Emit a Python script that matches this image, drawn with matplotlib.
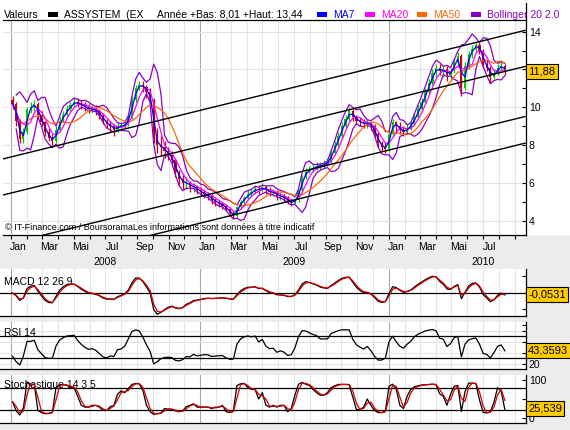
import matplotlib

matplotlib.use("Agg")
import matplotlib.pyplot as plt
import matplotlib.transforms as mtransforms
from matplotlib.patches import Rectangle
from matplotlib.lines import Line2D
import numpy as np
import pandas as pd


FIG_W, FIG_H = 570, 430
DPI = 100

# weekly candles (Friday closes), Jan 2008 -> mid Aug 2010
first_week = "2008-01-04"
closes = [
    10.2, 9.3, 8.3, 8.7, 9.9, 10.0, 10.2, 9.6, 9.2, 8.7,
    8.4, 8.2, 8.8, 9.3, 9.6, 9.9, 10.1, 10.3, 10.2, 10.1,
    10.0, 9.9, 9.9, 9.8, 9.6, 9.3, 9.1, 9.0, 8.8, 9.0,
    9.0, 9.1, 9.5, 10.4, 11.0, 11.2, 11.1, 10.8, 10.4, 8.4,
    8.0, 7.9, 7.7, 7.5, 7.2, 6.6, 6.2, 6.0, 6.0, 5.8,
    5.8, 5.6, 5.5, 5.4, 5.3, 5.1, 5.0, 4.9, 4.8, 4.6,
    4.4, 4.25, 4.7, 5.0, 5.2, 5.4, 5.5, 5.7, 5.6, 5.8,
    5.6, 5.5, 5.5, 5.3, 5.3, 5.2, 5.0, 4.95, 5.1, 5.6,
    6.3, 6.6, 6.7, 6.8, 6.9, 6.9, 7.0, 7.1, 7.6, 8.0,
    8.5, 9.0, 9.4, 9.8, 9.5, 9.3, 9.2, 9.1, 9.2, 9.0,
    8.6, 8.1, 7.9, 7.8, 8.6, 9.2, 9.0, 8.8, 8.7, 8.9,
    9.1, 9.5, 9.9, 10.3, 10.8, 11.3, 11.8, 12.1, 11.9, 12.0,
    11.7, 11.9, 12.4, 12.7, 11.0, 12.2, 12.8, 13.1, 13.3, 13.0,
    12.3, 12.1, 11.6, 11.8, 12.1, 12.2, 11.88,
]
opens = [
    10.4, 10.2, 9.3, 8.3, 8.7, 9.9, 10.0, 10.2, 9.6, 9.2,
    8.7, 8.4, 8.2, 8.8, 9.3, 9.6, 9.9, 10.1, 10.3, 10.2,
    10.1, 10.0, 9.9, 9.9, 9.8, 9.6, 9.3, 9.1, 9.0, 8.8,
    9.0, 9.0, 9.1, 9.5, 10.4, 11.0, 11.2, 11.1, 10.8, 10.4,
    8.4, 8.0, 7.9, 7.7, 7.5, 7.2, 6.6, 6.2, 6.0, 6.0,
    5.8, 5.8, 5.6, 5.5, 5.4, 5.3, 5.1, 5.0, 4.9, 4.8,
    4.6, 4.4, 4.25, 4.7, 5.0, 5.2, 5.4, 5.5, 5.7, 5.6,
    5.8, 5.6, 5.5, 5.5, 5.3, 5.3, 5.2, 5.0, 4.95, 5.1,
    5.6, 6.3, 6.6, 6.7, 6.8, 6.9, 6.9, 7.0, 7.1, 7.6,
    8.0, 8.5, 9.0, 9.4, 9.8, 9.5, 9.3, 9.2, 9.1, 9.2,
    9.0, 8.6, 8.1, 7.9, 7.8, 8.6, 9.2, 9.0, 8.8, 8.7,
    8.9, 9.1, 9.5, 9.9, 10.3, 10.8, 11.3, 11.8, 12.1, 11.9,
    12.0, 11.7, 11.9, 12.4, 12.7, 11.0, 12.2, 12.8, 13.1, 13.3,
    13.0, 12.3, 12.1, 11.6, 11.8, 12.1, 12.2,
]
highs = [
    10.6, 10.3, 9.4, 8.9, 10.0, 10.3, 10.4, 10.3, 9.8, 9.3,
    8.9, 8.6, 9.0, 9.5, 9.8, 10.1, 10.3, 10.5, 10.5, 10.4,
    10.3, 10.2, 10.1, 10.1, 9.9, 9.7, 9.4, 9.3, 9.1, 9.2,
    9.2, 9.3, 9.7, 10.6, 11.2, 11.4, 11.4, 11.2, 11.0, 10.5,
    8.9, 8.5, 8.2, 7.9, 7.7, 7.3, 6.7, 6.4, 6.3, 6.1,
    6.0, 5.9, 5.8, 5.7, 5.5, 5.4, 5.2, 5.1, 5.0, 4.9,
    4.7, 4.5, 4.8, 5.1, 5.3, 5.6, 5.7, 5.9, 5.9, 6.0,
    5.9, 5.8, 5.7, 5.6, 5.5, 5.4, 5.3, 5.1, 5.2, 5.7,
    6.4, 6.8, 6.9, 7.0, 7.1, 7.1, 7.2, 7.3, 7.8, 8.2,
    8.7, 9.2, 9.6, 10.0, 9.9, 9.6, 9.5, 9.4, 9.4, 9.3,
    9.1, 8.7, 8.2, 8.1, 8.8, 9.4, 9.3, 9.2, 9.0, 9.1,
    9.3, 9.7, 10.1, 10.5, 11.0, 11.5, 12.0, 12.3, 12.3, 12.2,
    12.2, 12.1, 12.6, 12.9, 12.8, 12.4, 13.0, 13.3, 13.44, 13.4,
    13.1, 12.5, 12.2, 12.0, 12.3, 12.5, 12.3,
]
lows = [
    9.9, 9.0, 8.1, 8.1, 8.6, 9.7, 9.8, 9.4, 9.0, 8.5,
    8.2, 8.0, 8.1, 8.7, 9.2, 9.5, 9.8, 10.0, 10.0, 9.9,
    9.8, 9.7, 9.7, 9.6, 9.4, 9.1, 8.9, 8.7, 8.5, 8.7,
    8.8, 8.9, 9.0, 9.4, 10.3, 10.9, 10.8, 10.5, 10.2, 8.1,
    7.6, 7.5, 7.3, 7.2, 6.9, 6.3, 5.9, 5.7, 5.7, 5.5,
    5.5, 5.4, 5.3, 5.2, 5.1, 4.9, 4.8, 4.7, 4.6, 4.5,
    4.3, 4.1, 4.2, 4.6, 4.9, 5.1, 5.3, 5.4, 5.4, 5.5,
    5.4, 5.3, 5.3, 5.1, 5.1, 5.0, 4.9, 4.8, 4.9, 5.0,
    5.5, 6.2, 6.5, 6.6, 6.7, 6.7, 6.8, 6.9, 7.0, 7.5,
    7.9, 8.4, 8.9, 9.3, 9.3, 9.1, 9.0, 8.9, 8.9, 8.8,
    8.4, 7.9, 7.7, 7.6, 7.7, 8.5, 8.7, 8.6, 8.5, 8.6,
    8.8, 9.0, 9.4, 9.8, 10.2, 10.7, 11.2, 11.6, 11.7, 11.6,
    11.4, 11.5, 11.8, 12.2, 10.6, 10.9, 12.0, 12.6, 12.9, 12.8,
    12.1, 11.9, 11.3, 11.5, 11.7, 11.9, 11.7,
]

# parallel channel lines: price at the left and right edge of the chart
channel_start = "2007-12-17"
channel_end = "2010-09-21"
channel_left = [7.27, 5.36, 2.71, 1.30]
channel_right = [14.07, 12.16, 9.51, 8.10]

month_labels = {1: "Jan", 3: "Mar", 5: "Mai", 7: "Jul", 9: "Sep", 11: "Nov"}
years = [2008, 2009, 2010]

last_macd = -0.0531
last_rsi = 43.3593
last_stoch = 25.539

GREEN = "#00c800"
RED = "#d40000"
BLUE = "#0000ff"
MAGENTA = "#ff00ff"
ORANGE = "#ff6600"
PURPLE = "#8a00c8"
BOX = "#ffcc00"
GRID = "#e3e3e3"
GRID_JAN = "#a8a8a8"
BG = "#ececec"


def px_date(px):
    # Jan 2009 sits at x=200, Jan 2010 at x=389 in the reference
    return pd.Timestamp("2008-01-01") + pd.Timedelta(days=(px - 11) / 189 * 365.5)


def fig_rect(left, top, right, bottom):
    return [left / FIG_W, 1 - bottom / FIG_H, (right - left) / FIG_W, (bottom - top) / FIG_H]


def fr(px, py):
    return px / FIG_W, 1 - py / FIG_H


def value_box(ax, y, text):
    trans = mtransforms.blended_transform_factory(ax.transAxes, ax.transData)
    ax.text(1.004, y, text, transform=trans, ha="left", va="center", fontsize=8,
            clip_on=False, zorder=20,
            bbox=dict(boxstyle="square,pad=0.22", fc=BOX, ec="black", lw=0.8))


def month_grid(ax, months):
    for m in months:
        ax.axvline(m, color=GRID_JAN if m.month == 1 else GRID, lw=0.8, zorder=0)


def style_lower(ax, xlim):
    ax.set_facecolor("white")
    ax.set_xlim(*xlim)
    ax.set_xticks([])
    for side in ("left", "top"):
        ax.spines[side].set_visible(False)
    ax.spines["right"].set_linewidth(0.9)
    ax.spines["bottom"].set_linewidth(0.9)
    ax.yaxis.tick_right()
    ax.tick_params(axis="y", direction="in", length=3, labelsize=7.5, pad=2, width=0.8)


plt.rcParams["font.family"] = ["Liberation Sans", "DejaVu Sans"]

dates = pd.date_range(first_week, periods=len(closes), freq="W-FRI")
close = pd.Series(closes, index=dates)
o = np.array(opens)
c = np.array(closes)
h = np.array(highs)
l = np.array(lows)

# indicators, day windows converted to weeks (5 trading days)
ma7 = close.rolling(2, min_periods=1).mean()
ma20 = close.rolling(4, min_periods=1).mean()
ma50 = close.rolling(10, min_periods=1).mean()
bb_std = close.rolling(4, min_periods=2).std(ddof=0)
bb_up = ma20 + 2 * bb_std
bb_dn = ma20 - 2 * bb_std

macd = close.ewm(span=12 / 5).mean() - close.ewm(span=26 / 5).mean()
signal = macd.ewm(span=9 / 5).mean()

# RSI: body move plus part of the wicks (intra-week swings), otherwise a run
# of down weeks pins a weekly RSI to zero
wicks = (h - np.maximum(o, c)) + (np.minimum(o, c) - l)
week_gain = np.clip(c - o, 0, None) + 0.4 * wicks
week_loss = np.clip(o - c, 0, None) + 0.4 * wicks
avg_gain = pd.Series(week_gain, index=dates).ewm(alpha=1 / 3, adjust=False).mean()
avg_loss = pd.Series(week_loss, index=dates).ewm(alpha=1 / 3, adjust=False).mean()
rsi = 100 * avg_gain / (avg_gain + avg_loss)

low_n = pd.Series(lows, index=dates).rolling(3, min_periods=1).min()
high_n = pd.Series(highs, index=dates).rolling(3, min_periods=1).max()
stoch_k = 100 * (close - low_n) / (high_n - low_n)
stoch_d = stoch_k.rolling(2, min_periods=1).mean()

months = pd.date_range("2008-01-01", "2010-09-01", freq="MS")

fig = plt.figure(figsize=(FIG_W / DPI, FIG_H / DPI), dpi=DPI)
fig.patch.set_facecolor(BG)
fig.add_artist(Rectangle((0, 1 - 235 / FIG_H), 1, 235 / FIG_H, transform=fig.transFigure,
                         fc="white", ec="none", zorder=-10))

# ---- price panel
ax = fig.add_axes(fig_rect(3, 20, 526, 235))
ax.set_facecolor("white")
main_xlim = (px_date(3), px_date(526))
ax.set_xlim(*main_xlim)
ax.set_ylim(3.24, 14.62)
month_grid(ax, months)
for v in range(4, 15, 2):
    ax.axhline(v, color=GRID, lw=0.8, zorder=0)

colors = np.where(c >= o, GREEN, RED)
ax.vlines(dates, l, h, colors=colors, lw=0.9, zorder=2)
ax.bar(dates, np.maximum(np.abs(c - o), 0.04), bottom=np.minimum(o, c), width=4.2,
       color=colors, zorder=2)

ax.plot(dates, bb_up, color=PURPLE, lw=0.9, zorder=3)
ax.plot(dates, bb_dn, color=PURPLE, lw=0.9, zorder=3)
ax.plot(dates, ma50, color=ORANGE, lw=0.9, zorder=3)
ax.plot(dates, ma20, color=MAGENTA, lw=0.9, zorder=3)
ax.plot(dates, ma7, color=BLUE, lw=0.9, zorder=3)

for lo, hi in zip(channel_left, channel_right):
    ax.plot([pd.Timestamp(channel_start), pd.Timestamp(channel_end)], [lo, hi],
            color="black", lw=1.0, zorder=6)

ax.spines["left"].set_visible(False)
for side in ("top", "right", "bottom"):
    ax.spines[side].set_linewidth(0.9)
ax.yaxis.tick_right()
ax.set_yticks(range(4, 15, 2))
# the 12 label sits behind the last-price box in the reference
ax.set_yticklabels(["4", "6", "8", "10", "", "14"])
ax.set_yticks(range(5, 15, 2), minor=True)
ax.tick_params(axis="y", which="both", direction="in", length=3, labelsize=7.5, pad=2, width=0.8)
ax.set_xticks(months)
ax.set_xticklabels([])
ax.tick_params(axis="x", direction="out", length=3, width=0.8)

trans_x = mtransforms.blended_transform_factory(ax.transData, ax.transAxes)
for m in months:
    if m.month in month_labels and m <= dates[-1]:
        ax.text(m + pd.Timedelta(days=14), -0.056, month_labels[m.month], transform=trans_x,
                ha="center", va="center", fontsize=7.5)
for yr in years:
    ax.text(pd.Timestamp(yr, 7, 1), -0.126, str(yr), transform=trans_x,
            ha="center", va="center", fontsize=7.5)

value_box(ax, closes[-1], f"{closes[-1]:.2f}".replace(".", ","))

fig.text(*fr(5, 227), "© IT-Finance.com / BoursoramaLes informations sont données à titre indicatif",
         fontsize=6.5, va="center", ha="left")

# ---- legend row on top
fig.add_artist(Line2D([526 / FIG_W, 526 / FIG_W], [1 - 3 / FIG_H, 1 - 20 / FIG_H],
                      transform=fig.transFigure, color="black", lw=0.9))
legend_items = [
    (3.5, None, "Valeurs", "black"),
    (64, "black", "ASSYSTEM  (EX", "black"),
    (157, None, "Année +Bas: 8,01 +Haut: 13,44", "black"),
    (333, BLUE, "MA7", BLUE),
    (381, MAGENTA, "MA20", MAGENTA),
    (433, ORANGE, "MA50", ORANGE),
    (487, PURPLE, "Bollinger 20 2.0", PURPLE),
]
for x, square, label, tcolor in legend_items:
    if square is not None:
        fig.add_artist(Rectangle(fr(x - 16, 16.5), 10 / FIG_W, 4.5 / FIG_H,
                                 transform=fig.transFigure, fc=square, ec="none"))
    fig.text(*fr(x, 17.5), label, color=tcolor, fontsize=7.5, va="baseline", ha="left")

# ---- lower panels
low_xlim = (px_date(0), px_date(526))

ax_macd = fig.add_axes(fig_rect(0, 269, 526, 316))
style_lower(ax_macd, low_xlim)
month_grid(ax_macd, months)
lim = np.nanmax(np.abs(macd)) * 1.08
ax_macd.set_ylim(-lim, lim * 1.04)
ax_macd.axhline(0, color="black", lw=0.9, zorder=1)
ax_macd.plot(dates, macd, color="black", lw=0.9, zorder=3)
ax_macd.plot(dates, signal, color=RED, lw=0.9, zorder=4)
ax_macd.set_yticks([-0.68 * lim, 0.72 * lim])
ax_macd.set_yticklabels([])
ax_macd.text(0.008, 0.72, "MACD 12 26 9", transform=ax_macd.transAxes, fontsize=7.5, va="center")
value_box(ax_macd, last_macd, f"{last_macd:.4f}".replace(".", ","))

ax_rsi = fig.add_axes(fig_rect(0, 322, 526, 369))
style_lower(ax_rsi, low_xlim)
month_grid(ax_rsi, months)
ax_rsi.set_ylim(10, 95.5)
for v in (20, 40, 60, 80):
    ax_rsi.axhline(v, color=GRID, lw=0.8, zorder=0)
ax_rsi.axhline(70, color="black", lw=0.9, zorder=1)
ax_rsi.axhline(30, color="black", lw=0.9, zorder=1)
ax_rsi.plot(dates, rsi, color="black", lw=0.9, zorder=3)
ax_rsi.set_yticks([20, 40, 60, 80, 90])
ax_rsi.set_yticklabels(["20", "", "", "", ""])
ax_rsi.text(0.008, 0.77, "RSI 14", transform=ax_rsi.transAxes, fontsize=7.5, va="center")
value_box(ax_rsi, last_rsi, f"{last_rsi:.4f}".replace(".", ","))

ax_sto = fig.add_axes(fig_rect(0, 375, 526, 423))
style_lower(ax_sto, low_xlim)
month_grid(ax_sto, months)
ax_sto.set_ylim(-13, 113)
ax_sto.axhline(80, color="black", lw=0.9, zorder=1)
ax_sto.axhline(20, color="black", lw=0.9, zorder=1)
ax_sto.plot(dates, stoch_k, color="black", lw=0.9, zorder=3)
ax_sto.plot(dates, stoch_d, color=RED, lw=0.9, zorder=4)
ax_sto.set_yticks([0, 50, 100])
ax_sto.set_yticklabels(["0", "", "100"])
ax_sto.text(0.008, 0.79, "Stochastique 14 3 5", transform=ax_sto.transAxes, fontsize=7.5, va="center")
value_box(ax_sto, last_stoch, f"{last_stoch:.3f}".replace(".", ","))

fig.savefig("out.png", dpi=DPI, facecolor=fig.get_facecolor())
